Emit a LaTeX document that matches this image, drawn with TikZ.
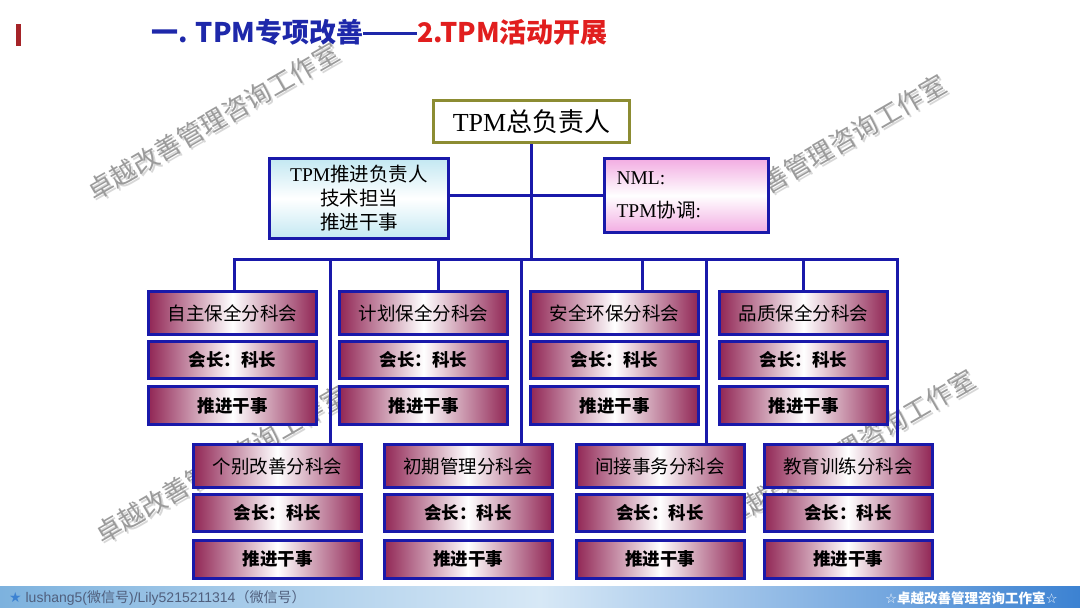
\documentclass[tikz,border=0pt]{standalone}
\usepackage{fontspec}
\setmainfont{Liberation Serif}
\newfontfamily\cjk{Noto Sans CJK SC}
\newfontfamily\sym{DejaVu Sans}
\newfontfamily\lsans{Liberation Sans}
\definecolor{chartblue}{RGB}{25,25,170}
\definecolor{olivebd}{RGB}{140,140,50}
\definecolor{mar}{RGB}{145,38,85}
\definecolor{titleblue}{RGB}{30,40,170}
\definecolor{titlered}{RGB}{225,30,30}
\definecolor{barred}{RGB}{165,35,40}
\definecolor{wmgray}{RGB}{155,155,155}
\definecolor{wmshadow}{RGB}{215,215,215}
\definecolor{footL}{RGB}{125,178,222}
\definecolor{footM}{RGB}{215,232,246}
\definecolor{footR}{RGB}{60,130,210}
\definecolor{foottext}{RGB}{80,95,125}
\definecolor{cyanlt}{RGB}{195,232,242}
\definecolor{pinklt}{RGB}{242,172,226}
\tikzset{
  conn/.style={draw=chartblue, line width=3pt, line join=miter},
  subbox/.style={draw=chartblue, line width=3pt, left color=mar, right color=mar, middle color=white,
    minimum width=168pt, inner sep=0pt, text=black},
  subtitle/.style={subbox, minimum height=43pt, font=\cjk\fontsize{18.5}{20}\selectfont},
  subrow/.style={subbox, minimum height=37pt, font=\cjk\bfseries\fontsize{17.5}{19}\selectfont},
  subrowb/.style={subbox, minimum height=38pt, font=\cjk\bfseries\fontsize{17.5}{19}\selectfont},
  wm/.style={text=wmgray, font=\cjk\fontsize{26}{28}\selectfont, rotate=30, inner sep=0pt},
  wms/.style={text=wmshadow, font=\cjk\fontsize{26}{28}\selectfont, rotate=30, inner sep=0pt},
}
\begin{document}
\begin{tikzpicture}[x=1pt,y=-1pt]
\useasboundingbox (0,0) rectangle (1080,608);
\fill[white] (0,0) rectangle (1080,608);
% watermarks
\foreach \p/\n in {{(215,123)}/w1s,{(822,155)}/w2s,{(223,466)}/w3s,{(851,450)}/w4s}{
  \node[wms] (\n) at \p {卓越改善管理咨询工作室};}
\node[wm] (w1) at (213,121) {卓越改善管理咨询工作室};
\node[wm] (w2) at (820,153) {卓越改善管理咨询工作室};
\node[wm] (w3) at (221,464) {卓越改善管理咨询工作室};
\node[wm] (w4) at (849,448) {卓越改善管理咨询工作室};
% title
\fill[barred] (16,24) rectangle (21,46);
\node[anchor=west, inner sep=0pt, font=\cjk\bfseries\fontsize{27}{30}\selectfont] (title) at (151,32)
  {\textcolor{titleblue}{一. TPM专项改善\rule[7.5pt]{54pt}{2.6pt}}\textcolor{titlered}{2.TPM活动开展}};
% top nodes
\node[draw=olivebd, line width=3.5pt, fill=white, minimum width=196pt, minimum height=42pt, inner sep=0pt,
  font=\fontsize{26}{28}\selectfont] (top) at (531.5,121.5) {TPM{\cjk 总负责人}};
\node[draw=chartblue, line width=3pt, top color=cyanlt, bottom color=cyanlt, middle color=white,
  minimum width=179pt, minimum height=80pt, inner sep=0pt, align=center,
  font=\fontsize{19.5}{24}\selectfont] (L) at (359,198.5)
  {TPM{\cjk 推进负责人}\\{\cjk 技术担当}\\{\cjk 推进干事}};
\node[draw=chartblue, line width=3pt, top color=pinklt, bottom color=pinklt, middle color=white,
  minimum width=164pt, minimum height=74pt, inner xsep=12pt, inner ysep=0pt, text width=140pt, align=left,
  font=\fontsize{19.5}{33}\selectfont] (R) at (686.5,195.5)
  {\raisebox{-3pt}{NML:}\\\raisebox{-3pt}{TPM{\cjk 协调}:}};
% top row
\foreach \n/\x/\t in {t1/232.5/自主保全分科会, t2/423.5/计划保全分科会, t3/614.5/安全环保分科会, t4/803.5/品质保全分科会}{
  \node[subtitle] (\n) at (\x,313) {\t};
  \node[subrow] (\n r) at (\x,360) {会长：科长};
  \node[subrowb] (\n s) at (\x,405.5) {推进干事};
}
% bottom row
\foreach \n/\x/\t in {b1/277.5/个别改善分科会, b2/468/初期管理分科会, b3/660/间接事务分科会, b4/848/教育训练分科会}{
  \node[subtitle] (\n) at (\x,466) {\t};
  \node[subrow] (\n r) at (\x,513) {会长：科长};
  \node[subrowb] (\n s) at (\x,559) {推进干事};
}
% connectors
\coordinate (bL) at (234,259);
\coordinate (bR) at (897,259);
\draw[conn] (top.south) -- (top.south |- bL);
\draw[conn] (L.east |- R.west) -- (R.west);
\draw[conn] (bL |- t1.north) -- (bL) -- (bR) -- (bR |- b4.north);
\foreach \x/\n in {438/t2, 642/t3, 803/t4}{
  \draw[conn] (\x,259) -- (\x,259 |- \n.north);
}
\foreach \x/\n in {330/b1, 521/b2, 706/b3}{
  \draw[conn] (\x,259) -- (\x,259 |- \n.north);
}
% footer
\shade[left color=footL, right color=footR, middle color=footM] (0,586) rectangle (1080,608);
\node[anchor=west, inner sep=0pt, text=foottext, font=\lsans\fontsize{14}{16}\selectfont] (fl) at (9,598)
  {{\sym\textcolor{footR}{★}} lushang5({\cjk 微信号})/Lily5215211314{\cjk （微信号）}};
\node[anchor=east, inner sep=0pt, text=white, font=\cjk\bfseries\fontsize{13.5}{15}\selectfont] (fr) at (1058,598)
  {{\sym ☆}卓越改善管理咨询工作室{\sym ☆}};
\end{tikzpicture}
\end{document}
